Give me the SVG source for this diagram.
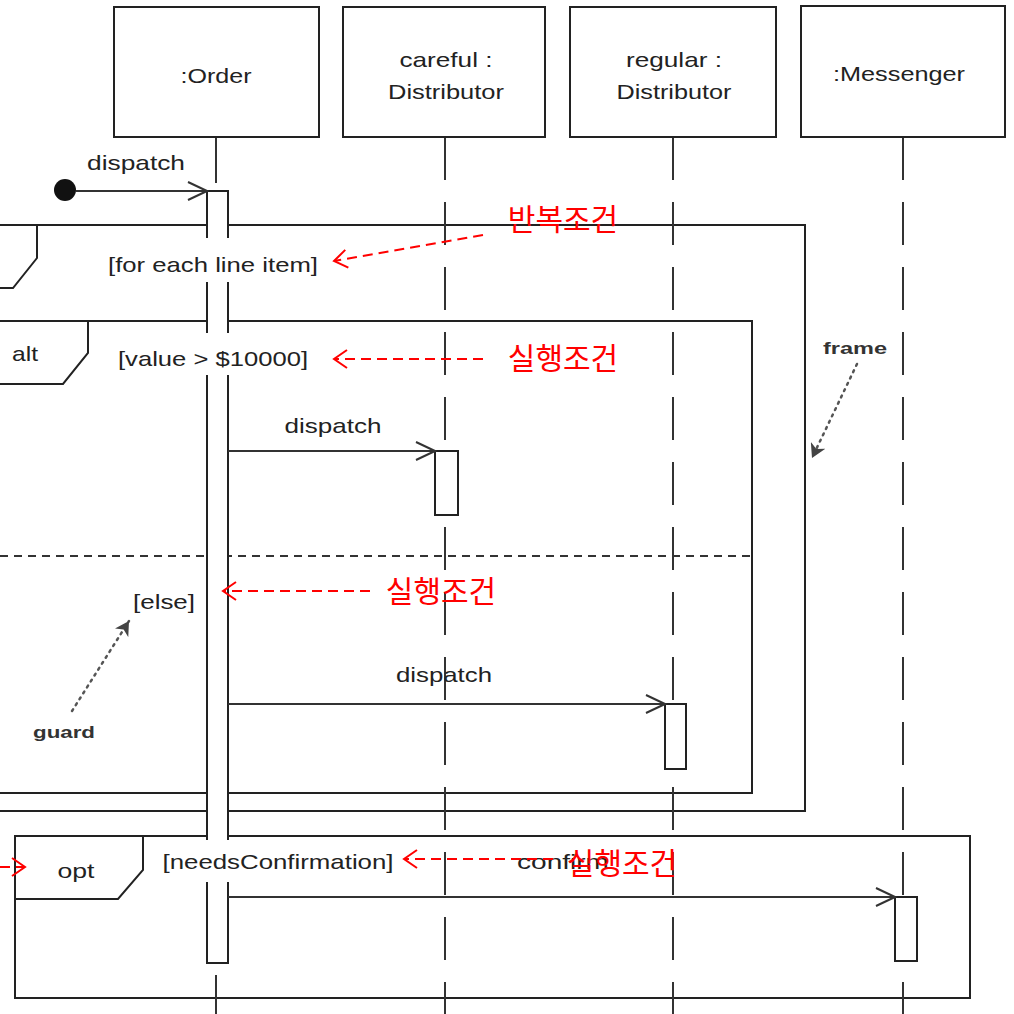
<svg xmlns="http://www.w3.org/2000/svg" width="1014" height="1014" viewBox="0 0 1014 1014">
<defs>
<style>
.t{font-family:"Liberation Sans",Arial,sans-serif;font-size:21px;fill:#222}
.b{font-family:"Liberation Sans",Arial,sans-serif;font-size:16px;font-weight:bold;fill:#333}
.k{font-family:"Noto Sans CJK KR",sans-serif;font-size:30px;fill:#ff0000}
.box{fill:#fff;stroke:#222;stroke-width:2}
.fr{fill:none;stroke:#222;stroke-width:2}
.ll{stroke:#333;stroke-width:2;stroke-dasharray:43 22;fill:none}
.msg{stroke:#333;stroke-width:2;fill:none}
.red{stroke:#ff0000;stroke-width:2;stroke-dasharray:10 6;fill:none}
.dot{stroke:#555;stroke-width:2.5;stroke-dasharray:2 5;stroke-linecap:round;fill:none}
</style>
<marker id="open" markerWidth="22" markerHeight="20" refX="20" refY="10" orient="auto" markerUnits="userSpaceOnUse">
<path d="M1,1 L20,10 L1,19" fill="none" stroke="#333" stroke-width="2"/>
</marker>
<marker id="redh" markerWidth="16" markerHeight="20" refX="14" refY="10" orient="auto" markerUnits="userSpaceOnUse">
<path d="M1,1 L14,10 L1,19" fill="none" stroke="#ff0000" stroke-width="2"/>
</marker>
<marker id="greyh" markerWidth="16" markerHeight="16" refX="14" refY="8" orient="auto" markerUnits="userSpaceOnUse">
<path d="M0,0 L14,8 L0,16 L4,8 Z" fill="#444"/>
</marker>
</defs>
<rect width="1014" height="1014" fill="#fff"/>

<g id="frames">
<g id="loop-frame">
<path class="fr" d="M0,225 H805 V811 H0"/>
<path class="fr" d="M37,225 V258 L13,288 H0"/>
</g>
<g id="alt-frame">
<path class="fr" d="M0,321 H752 V793 H0"/>
<path class="fr" d="M88,321 V353 L63,384 H0"/>
<line x1="0" y1="556" x2="752" y2="556" stroke="#333" stroke-width="2" stroke-dasharray="8 6"/>
<text class="t" x="25" y="361" text-anchor="middle" textLength="26" lengthAdjust="spacingAndGlyphs">alt</text>
</g>
<g id="opt-frame">
<rect class="fr" x="15" y="836" width="955" height="162"/>
<path class="fr" d="M143,836 V870 L118,899 H15"/>
<text class="t" x="76" y="878" text-anchor="middle" textLength="37" lengthAdjust="spacingAndGlyphs">opt</text>
</g>
</g>

<g id="lifelines">
<line class="msg" x1="216" y1="137" x2="216" y2="183"/>
<line class="msg" x1="216" y1="975" x2="216" y2="1014"/>
<line class="ll" x1="445" y1="137" x2="445" y2="1014"/>
<line class="ll" x1="673" y1="137" x2="673" y2="1014"/>
<line class="ll" x1="903" y1="137" x2="903" y2="1014" stroke-dasharray="45 22"/>
</g>

<g id="order">
<rect class="box" x="114" y="7" width="205" height="130"/>
<text class="t" x="216" y="83" text-anchor="middle" textLength="71" lengthAdjust="spacingAndGlyphs">:Order</text>
</g>
<g id="careful">
<rect class="box" x="343" y="7" width="202" height="130"/>
<text class="t" x="446" y="67" text-anchor="middle" textLength="93" lengthAdjust="spacingAndGlyphs">careful :</text>
<text class="t" x="446" y="99" text-anchor="middle" textLength="116" lengthAdjust="spacingAndGlyphs">Distributor</text>
</g>
<g id="regular">
<rect class="box" x="570" y="7" width="206" height="130"/>
<text class="t" x="674" y="67" text-anchor="middle" textLength="96" lengthAdjust="spacingAndGlyphs">regular :</text>
<text class="t" x="674" y="99" text-anchor="middle" textLength="115" lengthAdjust="spacingAndGlyphs">Distributor</text>
</g>
<g id="messenger">
<rect class="box" x="801" y="6" width="204" height="131"/>
<text class="t" x="899" y="81" text-anchor="middle" textLength="132" lengthAdjust="spacingAndGlyphs">:Messenger</text>
</g>

<g id="activations">
<rect class="box" x="207" y="191" width="21" height="772"/>
<rect class="box" x="435" y="451" width="23" height="64"/>
<rect class="box" x="665" y="704" width="21" height="65"/>
<rect class="box" x="895" y="897" width="22" height="64"/>
</g>

<g id="start">
<circle cx="65" cy="190" r="11" fill="#111"/>
</g>

<g id="connectors">
<line class="msg" x1="76" y1="191" x2="207" y2="191" marker-end="url(#open)"/>
<line class="msg" x1="228" y1="451" x2="435" y2="451" marker-end="url(#open)"/>
<line class="msg" x1="228" y1="704" x2="665" y2="704" marker-end="url(#open)"/>
<line class="msg" x1="228" y1="897" x2="895" y2="897" marker-end="url(#open)"/>
<line class="dot" x1="857" y1="364" x2="812" y2="458" marker-end="url(#greyh)"/>
<line class="dot" x1="72" y1="711" x2="129" y2="621" marker-end="url(#greyh)"/>
</g>

<g id="labels">
<text class="t" x="136" y="170" text-anchor="middle" textLength="98" lengthAdjust="spacingAndGlyphs">dispatch</text>
<text class="t" x="333" y="433" text-anchor="middle" textLength="97" lengthAdjust="spacingAndGlyphs">dispatch</text>
<text class="t" x="444" y="682" text-anchor="middle" textLength="96" lengthAdjust="spacingAndGlyphs">dispatch</text>
<text class="t" x="563" y="869" text-anchor="middle" textLength="92" lengthAdjust="spacingAndGlyphs">confirm</text>
<rect x="104" y="238" width="218" height="44" fill="#fff"/>
<text class="t" x="213" y="272" text-anchor="middle" textLength="210" lengthAdjust="spacingAndGlyphs">[for each line item]</text>
<rect x="114" y="333" width="198" height="42" fill="#fff"/>
<text class="t" x="213" y="366" text-anchor="middle" textLength="190" lengthAdjust="spacingAndGlyphs">[value &gt; $10000]</text>
<text class="t" x="164" y="609" text-anchor="middle" textLength="62" lengthAdjust="spacingAndGlyphs">[else]</text>
<rect x="159" y="840" width="239" height="42" fill="#fff"/>
<text class="t" x="278" y="869" text-anchor="middle" textLength="231" lengthAdjust="spacingAndGlyphs">[needsConfirmation]</text>
<text class="b" x="855" y="354" text-anchor="middle" textLength="64" lengthAdjust="spacingAndGlyphs">frame</text>
<text class="b" x="64" y="738" text-anchor="middle" textLength="62" lengthAdjust="spacingAndGlyphs">guard</text>
</g>

<g id="annotations">
<line class="red" x1="483" y1="235" x2="334" y2="261" marker-end="url(#redh)"/>
<text class="k" x="563" y="230" text-anchor="middle">반복조건</text>
<line class="red" x1="483" y1="359" x2="334" y2="359" marker-end="url(#redh)"/>
<text class="k" x="563" y="369" text-anchor="middle">실행조건</text>
<line class="red" x1="370" y1="591" x2="223" y2="591" marker-end="url(#redh)"/>
<text class="k" x="441" y="602" text-anchor="middle">실행조건</text>
<line class="red" x1="553" y1="859" x2="404" y2="859" marker-end="url(#redh)"/>
<text class="k" x="622" y="874" text-anchor="middle">실행조건</text>
<line class="red" x1="0" y1="867" x2="25" y2="867" marker-end="url(#redh)"/>
</g>
</svg>
